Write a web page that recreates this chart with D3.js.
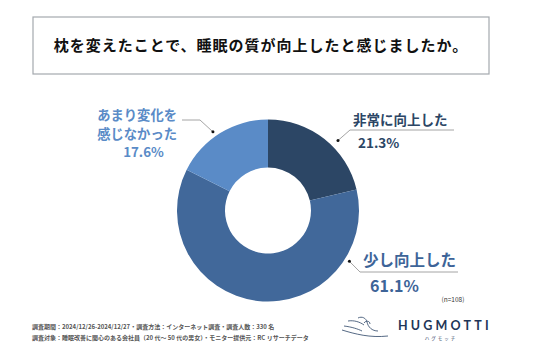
<!DOCTYPE html>
<html><head><meta charset="utf-8">
<script src="https://cdn.jsdelivr.net/npm/d3@7"></script>
<style>
html,body{margin:0;padding:0;background:#fff;}
svg{display:block;font-family:"Noto Sans CJK JP","Noto Sans",sans-serif;}
</style></head>
<body><svg id="c" width="536" height="357"></svg>
<script>
const title = "枕を変えたことで、睡眠の質が向上したと感じましたか。";
const categories = ["非常に向上した", "少し向上した", "あまり変化を感じなかった"];
const labelLines = [["非常に向上した"], ["少し向上した"], ["あまり変化を", "感じなかった"]];
const values = [21.3, 61.1, 17.6];
const colors = ["#2c4665", "#41689a", "#5a8bc7"];
const textColors = ["#2c4665", "#3d6498", "#5a8bc7"];
const sampleNote = "(n=108)";
const footnotes = [
  "調査期間：2024/12/26-2024/12/27・調査方法：インターネット調査・調査人数：330 名",
  "調査対象：睡眠改善に関心のある会社員（20 代〜 50 代の男女）・モニター提供元：RC リサーチデータ"
];

const svg = d3.select("#c");
const cx = 268, cy = 210.5, R = 91, r = 43;

// title box
svg.append("rect").attr("x", 33).attr("y", 17).attr("width", 456).attr("height", 57)
  .attr("fill", "#fff").attr("stroke", "#a4a9ae").attr("stroke-width", 1.2);
svg.append("text").attr("x", 261).attr("y", 51).attr("text-anchor", "middle")
  .attr("font-size", 15).attr("font-weight", 700).attr("letter-spacing", 1).attr("fill", "#111")
  .text(title);

const pie = d3.pie().sort(null).value(d => d)(values);
const arc = d3.arc().innerRadius(r).outerRadius(R);
const g = svg.append("g").attr("transform", `translate(${cx},${cy})`);
g.selectAll("path").data(pie).join("path").attr("d", arc).attr("fill", (d, i) => colors[i]);

// label layout: dot angle (deg), leader polyline, text positions
const layout = [
  {ang: 45, dotR: 99, pts: [[350,130],[454,130]], lines: [{x:353,y:125,size:13.5}], pct:{x:358,y:148,size:13.5}, anchor:"start"},
  {ang: 122, dotR: 96, pts: [[360,272],[458,272]], lines: [{x:363,y:266,size:15.5}], pct:{x:370,y:292,size:16}, anchor:"start"},
  {ang: 325, dotR: 96, pts: [[200,120],[182,120]], lines: [{x:177,y:120,size:13.3},{x:177,y:138.5,size:13.3}], pct:{x:143.5,y:156.5,size:13.3}, anchor:"end"}
];
layout.forEach((L, i) => {
  const a = L.ang * Math.PI / 180;
  const dx = cx + L.dotR * Math.sin(a), dy = cy - L.dotR * Math.cos(a);
  svg.append("polyline").attr("points", [[dx, dy], ...L.pts].map(p => p.join(",")).join(" "))
    .attr("fill", "none").attr("stroke", "#9a9a9a").attr("stroke-width", 0.9);
  svg.append("circle").attr("cx", dx).attr("cy", dy).attr("r", 1.5).attr("fill", "#111");
  labelLines[i].forEach((t, j) => {
    const p = L.lines[j];
    svg.append("text").attr("x", p.x).attr("y", p.y).attr("text-anchor", L.anchor)
      .attr("font-size", p.size).attr("font-weight", 700).attr("fill", textColors[i]).text(t);
  });
  svg.append("text").attr("x", L.pct.x).attr("y", L.pct.y)
    .attr("text-anchor", i === 2 ? "middle" : "start")
    .attr("font-size", L.pct.size).attr("font-weight", 700).attr("fill", textColors[i])
    .text(values[i].toFixed(1) + "%");
});

svg.append("text").attr("x", 453).attr("y", 302).attr("text-anchor", "middle")
  .attr("font-size", 6.5).attr("fill", "#333").text(sampleNote);

footnotes.forEach((t, i) => {
  svg.append("text").attr("x", 32).attr("y", 329 + i * 10.5).attr("font-size", 6)
    .attr("font-weight", 700).attr("fill", "#555").text(t);
});

// logo
const logo = svg.append("g");
logo.append("text").attr("x", 398).attr("y", 330).attr("font-family", "Lato, 'Open Sans', sans-serif")
  .attr("font-size", 12.5).attr("font-weight", 700).attr("letter-spacing", 3.2).attr("fill", "#1e3557").text("HUGMOTTI");
logo.append("text").attr("x", 441).attr("y", 340).attr("text-anchor", "middle")
  .attr("font-size", 4.5).attr("letter-spacing", 2).attr("fill", "#1e3557").text("ハグモッチ");
const lp = [
  "M342,330 C355,334 370,338 388,336",
  "M344,326 C352,327 358,329 362,331",
  "M348,321 C354,320 360,322 364,325",
  "M358,318 C362,316 366,318 367,322 C368,327 372,331 378,331",
  "M364,323 C366,320 370,321 370,324"
];
lp.forEach(d => logo.append("path").attr("d", d).attr("fill", "none")
  .attr("stroke", "#2a4365").attr("stroke-width", 0.8));
</script></body></html>
